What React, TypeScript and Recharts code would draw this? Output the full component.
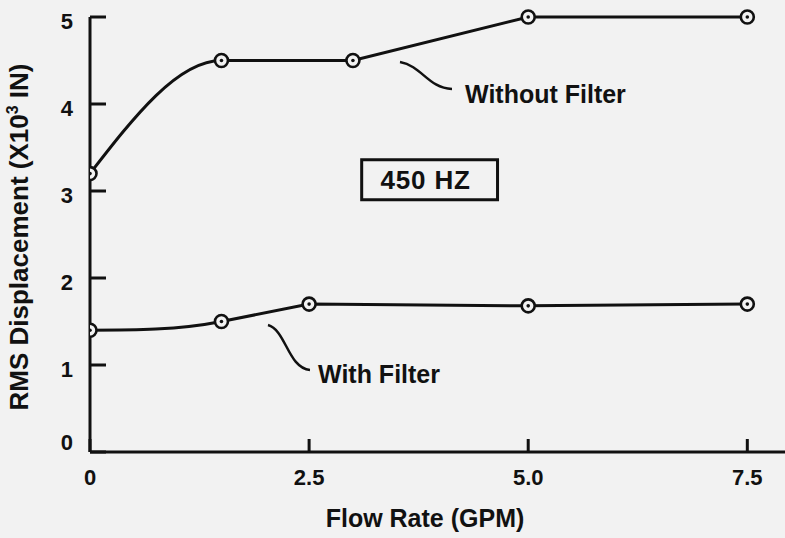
import { LineChart, Line, XAxis, YAxis, ReferenceArea } from "recharts";

// Flow rate (GPM) vs RMS displacement (x10^3 in), 450 Hz
const withoutFlow = [0, 1.5, 3.0, 5.0, 7.5];
const withoutDisp = [3.2, 4.5, 4.5, 5.0, 5.0];
const withFlow = [0, 1.5, 2.5, 5.0, 7.5];
const withDisp = [1.4, 1.5, 1.7, 1.68, 1.7];

const xTicks = [0, 2.5, 5.0, 7.5];
const xTickLabels = ["0", "2.5", "5.0", "7.5"];
const yTicks = [0, 1, 2, 3, 4, 5];

const BG = "#f2f2f2";
const INK = "#111";
const FONT = "'Liberation Sans', Arial, Helvetica, sans-serif";

const withoutData = withoutFlow.map((x, i) => ({ x, y: withoutDisp[i] }));
const withData = withFlow.map((x, i) => ({ x, y: withDisp[i] }));

// hand-drawn look: first segment is a smooth lead-in curve, the rest straight
function leadInCurve(context: any) {
    let pts: number[][] = [];
    return {
        areaStart() {},
        areaEnd() {},
        lineStart() {
            pts = [];
        },
        point(x: number, y: number) {
            pts.push([+x, +y]);
        },
        lineEnd() {
            if (!pts.length) return;
            context.moveTo(pts[0][0], pts[0][1]);
            for (let i = 1; i < pts.length; i++) {
                const [x0, y0] = pts[i - 1];
                const [x1, y1] = pts[i];
                if (i === 1 && pts.length > 2) {
                    const [x2, y2] = pts[2];
                    const dx = x1 - x0;
                    const d = (y1 - y0) / dx;
                    const m1 = (y2 - y1) / (x2 - x1);
                    const m0 = (3 * d - m1) / 2;
                    context.bezierCurveTo(x0 + dx / 3, y0 + (m0 * dx) / 3, x1 - dx / 3, y1 - (m1 * dx) / 3, x1, y1);
                } else {
                    context.lineTo(x1, y1);
                }
            }
        },
    };
}

function Marker(props: any) {
    const { cx, cy, index } = props;
    if (cx == null || cy == null) return null;
    return (
        <g key={index}>
            <circle cx={cx} cy={cy} r={6.5} fill={BG} stroke={INK} strokeWidth={2.6} />
            <circle cx={cx} cy={cy} r={1.8} fill={INK} />
        </g>
    );
}

function YTick(props: any) {
    const { x, y, payload } = props;
    const v = payload.value;
    return (
        <g>
            <line x1={x} x2={x + 16} y1={y} y2={y} stroke={INK} strokeWidth={3} />
            <text
                x={x - 17}
                y={v === 0 ? y - 2 : y + 12}
                textAnchor="end"
                fontFamily={FONT}
                fontWeight="bold"
                fontSize={22}
                fill={INK}
            >
                {v}
            </text>
        </g>
    );
}

function XTick(props: any) {
    const { x, y, payload, index } = props;
    return (
        <g>
            <line x1={x} x2={x} y1={y} y2={y - 13} stroke={INK} strokeWidth={3} />
            <text
                x={x}
                y={y + 33}
                textAnchor="middle"
                fontFamily={FONT}
                fontWeight="bold"
                fontSize={22}
                fill={INK}
            >
                {xTickLabels[index] ?? payload.value}
            </text>
        </g>
    );
}

const textStyle = { fontFamily: FONT, fontWeight: "bold" as const, fill: INK };

export default function App() {
    return (
        <div style={{ position: "absolute", left: 0, top: 0, width: 785, height: 538, background: BG }}>
            <LineChart width={785} height={538} margin={{ top: 17, right: 0, bottom: 0, left: 0 }}>
                <XAxis
                    type="number"
                    dataKey="x"
                    domain={[0, 7.93]}
                    ticks={xTicks}
                    allowDataOverflow
                    height={86}
                    tickSize={0}
                    tickMargin={0}
                    tick={<XTick />}
                    axisLine={{ stroke: INK, strokeWidth: 3 }}
                    tickLine={false}
                />
                <YAxis
                    type="number"
                    dataKey="y"
                    domain={[0, 5]}
                    ticks={yTicks}
                    width={90}
                    tickSize={0}
                    tickMargin={0}
                    tick={<YTick />}
                    axisLine={{ stroke: INK, strokeWidth: 3 }}
                    tickLine={false}
                />
                <ReferenceArea
                    x1={3.1}
                    x2={4.65}
                    y1={2.9}
                    y2={3.36}
                    fill={BG}
                    fillOpacity={1}
                    stroke={INK}
                    strokeWidth={3}
                    label={{
                        value: "450 HZ",
                        position: "center",
                        dx: -4,
                        fontFamily: FONT,
                        fontWeight: "bold",
                        fontSize: 26,
                        letterSpacing: 0.8,
                        fill: INK,
                    }}
                />
                <Line
                    data={withoutData}
                    dataKey="y"
                    type={leadInCurve as any}
                    stroke={INK}
                    strokeWidth={3}
                    dot={<Marker />}
                    activeDot={false}
                    isAnimationActive={false}
                />
                <Line
                    data={withData}
                    dataKey="y"
                    type={leadInCurve as any}
                    stroke={INK}
                    strokeWidth={3}
                    dot={<Marker />}
                    activeDot={false}
                    isAnimationActive={false}
                />
                {/* annotations */}
                <path d="M400,62 C422,66 428,88 452,89" fill="none" stroke={INK} strokeWidth={2.5} />
                <text x={465} y={103} fontSize={25} {...textStyle}>Without Filter</text>
                <path d="M268,325 C286,330 288,368 310,370" fill="none" stroke={INK} strokeWidth={2.5} />
                <text x={318} y={383} fontSize={25} {...textStyle}>With Filter</text>
                <text x={425} y={527} fontSize={25} textAnchor="middle" {...textStyle}>Flow Rate (GPM)</text>
                <text x={28} y={237} fontSize={26} textAnchor="middle" transform="rotate(-90 28 237)" {...textStyle}>
                    RMS Displacement (X10
                    <tspan fontSize={16} dy={-10}>3</tspan>
                    <tspan dy={10}> IN)</tspan>
                </text>
            </LineChart>
        </div>
    );
}
